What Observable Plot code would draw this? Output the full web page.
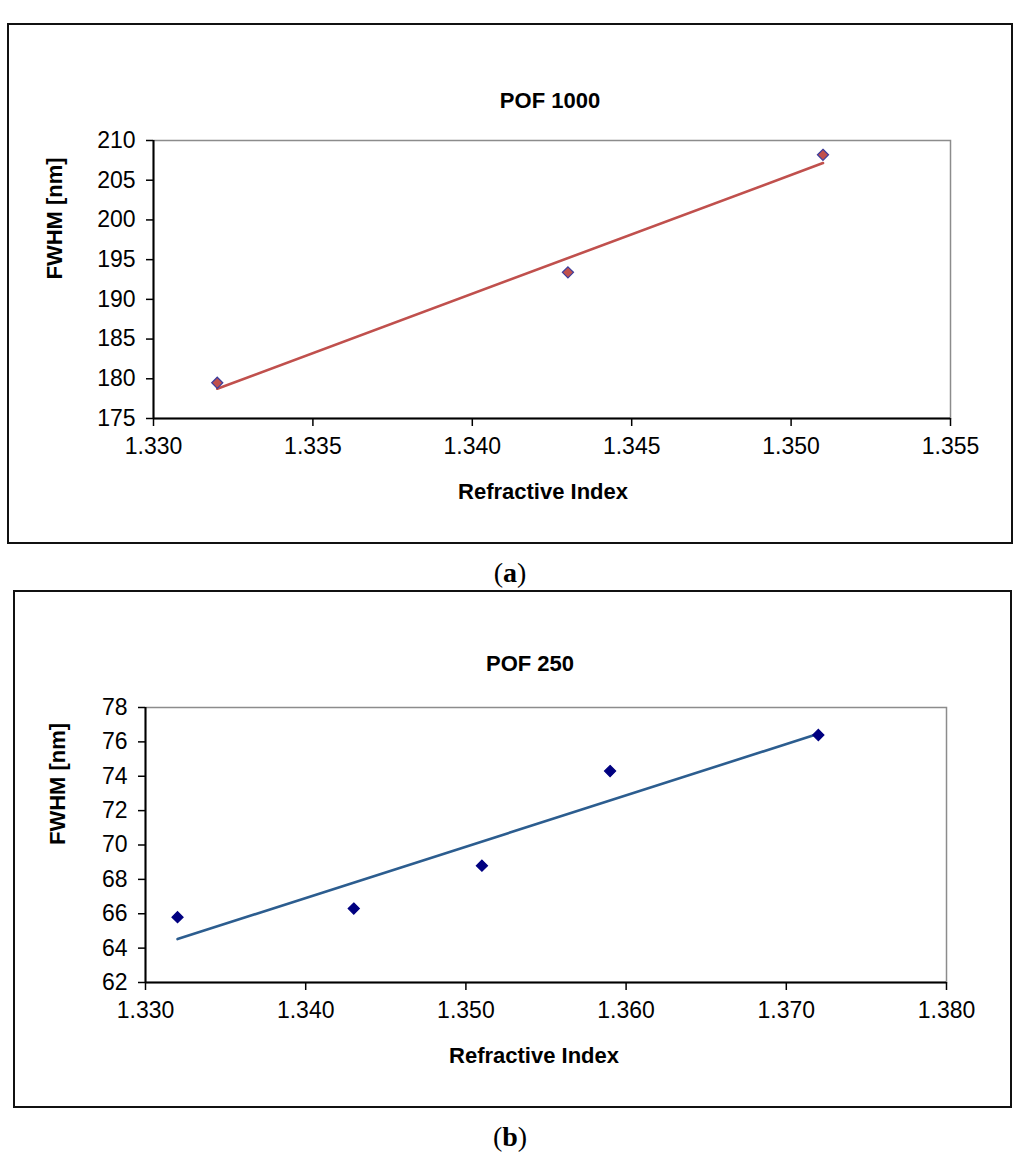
<!DOCTYPE html>
<html><head><meta charset="utf-8">
<script src="https://cdn.jsdelivr.net/npm/d3@7"></script>
<script src="https://cdn.jsdelivr.net/npm/@observablehq/plot@0.6"></script>
<style>
html,body{margin:0;padding:0;background:#fff;overflow:hidden;}
#page{position:relative;width:1024px;height:1159px;font-family:"Liberation Sans",Arial,sans-serif;}
.frame{position:absolute;border:2px solid #111;box-sizing:border-box;pointer-events:none;}
.cap{position:absolute;font-family:"Liberation Serif","Times New Roman",serif;font-size:28px;transform:translate(-50%,-50%);white-space:nowrap;}
.cap b{font-weight:bold;}
.plotwrap{position:absolute;left:0;}
</style></head>
<body>
<div id="page">
  <div id="pa" class="plotwrap" style="top:0px"></div>
  <div id="pb" class="plotwrap" style="top:580px"></div>
  <div class="frame" style="left:7px;top:23px;width:1006px;height:521px"></div>
  <div class="frame" style="left:13px;top:590px;width:999px;height:518px"></div>
  <div class="cap" style="left:510px;top:573px">(<b>a</b>)</div>
  <div class="cap" style="left:510px;top:1137px">(<b>b</b>)</div>
</div>
<script>
// Panel (a): POF 1000
const titleA = "POF 1000";
const riA = [1.332, 1.343, 1.351];
const fwhmA = [179.5, 193.4, 208.2];
const xTicksA = [1.330, 1.335, 1.340, 1.345, 1.350, 1.355];
const yTicksA = [175, 180, 185, 190, 195, 200, 205, 210];

// Panel (b): POF 250
const titleB = "POF 250";
const riB = [1.332, 1.343, 1.351, 1.359, 1.372];
const fwhmB = [65.8, 66.3, 68.8, 74.3, 76.4];
const xTicksB = [1.330, 1.340, 1.350, 1.360, 1.370, 1.380];
const yTicksB = [62, 64, 66, 68, 70, 72, 74, 76, 78];

const xLabel = "Refractive Index";
const yLabel = "FWHM [nm]";

function panel({title, xs, ys, xTicks, yTicks, height, margins, lineColor, dotFill, dotStroke, titleDx, titleDy, xLabelDx, yLabelOffset, xLabelOffset}) {
  const data = xs.map((x, i) => ({x, y: ys[i]}));
  const xDom = [xTicks[0], xTicks[xTicks.length - 1]];
  const yDom = [yTicks[0], yTicks[yTicks.length - 1]];
  return Plot.plot({
    width: 1024,
    height,
    ...margins,
    style: {background: "transparent", fontSize: "22px", fontFamily: "'Liberation Sans', Arial, sans-serif", color: "#000", overflow: "visible"},
    x: {domain: xDom, ticks: xTicks, tickFormat: d3.format(".3f"), label: null},
    y: {domain: yDom, ticks: yTicks, label: null},
    marks: [
      Plot.frame({stroke: "#8c8c8c", strokeWidth: 1.5}),
      Plot.ruleX([xDom[0]], {stroke: "#000", strokeWidth: 2}),
      Plot.ruleY([yDom[0]], {stroke: "#000", strokeWidth: 2}),
      Plot.axisX({ticks: xTicks, tickFormat: d3.format(".3f"), tickSize: 8, tickPadding: 11, label: null, strokeWidth: 1.5, fontSize: 23}),
      Plot.axisY({ticks: yTicks, tickSize: 7, tickPadding: 11, label: null, strokeWidth: 1.5, fontSize: 23}),
      Plot.linearRegressionY(data, {x: "x", y: "y", stroke: lineColor, strokeWidth: 2.6, ci: 0}),
      Plot.dot(data, {x: "x", y: "y", symbol: "diamond2", r: 5, fill: dotFill, stroke: dotStroke, strokeWidth: 1.2}),
      Plot.text([title], {frameAnchor: "top", dx: titleDx, dy: titleDy, fontWeight: "bold", fontSize: 22}),
      Plot.text([xLabel], {frameAnchor: "bottom", dx: xLabelDx, dy: xLabelOffset, fontWeight: "bold", fontSize: 22}),
      Plot.text([yLabel], {frameAnchor: "left", dx: -yLabelOffset, rotate: -90, fontWeight: "bold", fontSize: 22})
    ]
  });
}

document.getElementById("pa").appendChild(panel({
  title: titleA, xs: riA, ys: fwhmA, xTicks: xTicksA, yTicks: yTicksA,
  height: 560, margins: {marginTop: 140, marginBottom: 142, marginLeft: 153, marginRight: 74},
  lineColor: "#c0504d", dotFill: "#c0504d", dotStroke: "#3c3c9c",
  titleDx: -2, titleDy: -48, xLabelDx: -9, xLabelOffset: 80, yLabelOffset: 99
}));

document.getElementById("pb").appendChild(panel({
  title: titleB, xs: riB, ys: fwhmB, xTicks: xTicksB, yTicks: yTicksB,
  height: 540, margins: {marginTop: 127, marginBottom: 138, marginLeft: 145, marginRight: 78},
  lineColor: "#2c5d8f", dotFill: "#000080", dotStroke: "#000080",
  titleDx: -16, titleDy: -52, xLabelDx: -12, xLabelOffset: 80, yLabelOffset: 88
}));
</script>
</body></html>
